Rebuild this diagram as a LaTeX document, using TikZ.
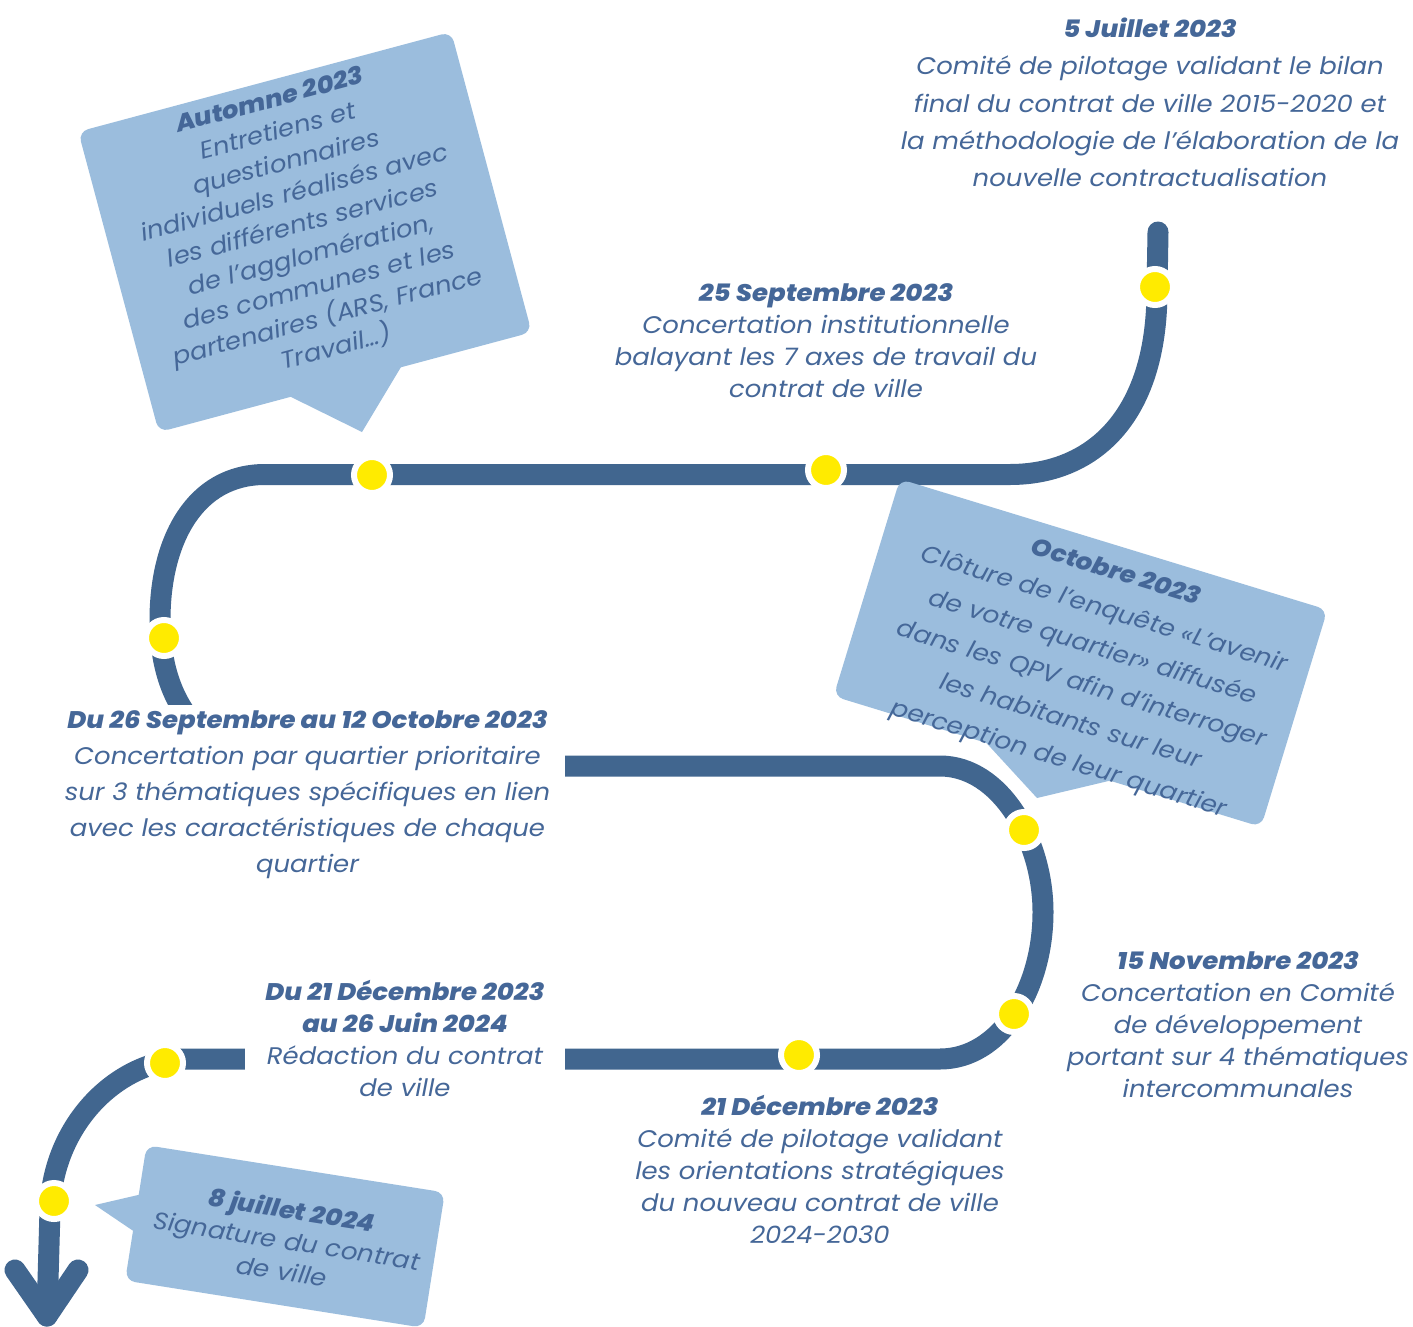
\documentclass[tikz,border=0pt]{standalone}
\usepackage{fontspec}
\IfFontExistsTF{Poppins ExtraBold Italic}
  {\setmainfont{Poppins}[FakeStretch=1.08, BoldItalicFont={Poppins ExtraBold Italic}]}
  {\setmainfont{Poppins}[FakeStretch=1.08]}
\definecolor{lineblue}{RGB}{65,102,143}
\definecolor{txtblue}{RGB}{69,103,152}
\definecolor{boxblue}{RGB}{155,189,221}
\definecolor{dotyellow}{RGB}{255,235,0}
\tikzset{
  route/.style={draw=lineblue, line width=21pt, line cap=round, line join=round},
  dotmark/.style={circle, fill=dotyellow, draw=white, line width=6pt, minimum size=36pt, inner sep=0pt},
  bubble/.style={fill=boxblue, rounded corners=10pt, inner sep=0pt},
  pointer/.style={fill=boxblue},
  txtblock/.style={text=txtblue, align=center, inner sep=0pt, font=\itshape\fontsize{24}{32}\selectfont},
  whiteblock/.style={txtblock, fill=white},
}
\begin{document}
\begin{tikzpicture}[x=1pt, y=-1pt]
\useasboundingbox (0,0) rectangle (1413,1327);
\clip (0,0) rectangle (1413,1327);
\fill[white] (0,0) rectangle (1413,1327);

% main route
\draw[route] (1158,232) -- (1157,290)
  .. controls (1157,420) and (1090,474.5) .. (1010,474.5) -- (265,474.5)
  .. controls (195,474.5) and (160,540) .. (160,620)
  .. controls (160,720) and (220,766) .. (300,766) -- (940,766)
  .. controls (1000,766) and (1043,840) .. (1043,912)
  .. controls (1043,990) and (1000,1059) .. (940,1059) -- (180,1059)
  .. controls (110,1065) and (52,1130) .. (50,1210) -- (47,1316);
\coordinate (tipL) at (15,1270);
\coordinate (tip) at (47,1316);
\coordinate (tipR) at (78,1270);
\draw[route] (tipL) -- (tip) -- (tipR);

% texts with white background hiding the route
\node[whiteblock, font=\itshape\fontsize{24}{36}\selectfont, minimum width=515pt, minimum height=180pt] (t26) at (307.5,795)
  {\textbf{Du 26 Septembre au 12 Octobre 2023}\\Concertation par quartier prioritaire\\sur 3 thématiques spécifiques en lien\\avec les caractéristiques de chaque\\quartier};
\node[whiteblock, minimum width=320pt, minimum height=130pt] (t21) at (405,1038)
  {\textbf{Du 21 Décembre 2023}\\\textbf{au 26 Juin 2024}\\Rédaction du contrat\\de ville};

% plain texts
\node[txtblock, font=\itshape\fontsize{24}{37.3}\selectfont] (t5) at (1150,102.5)
  {\textbf{5 Juillet 2023}\\Comité de pilotage validant le bilan\\final du contrat de ville 2015-2020 et\\la méthodologie de l’élaboration de la\\nouvelle contractualisation};
\node[txtblock] (t25) at (826,341)
  {\textbf{25 Septembre 2023}\\Concertation institutionnelle\\balayant les 7 axes de travail du\\contrat de ville};
\node[txtblock] (t15) at (1238,1025)
  {\textbf{15 Novembre 2023}\\Concertation en Comité\\de développement\\portant sur 4 thématiques\\intercommunales};
\node[txtblock] (t21d) at (820,1169.5)
  {\textbf{21 Décembre 2023}\\Comité de pilotage validant\\les orientations stratégiques\\du nouveau contrat de ville\\2024-2030};

% bubbles
\node[bubble, rotate=15, minimum width=386pt, minimum height=311pt] (bAut) at (305,232) {};
\fill[pointer] (401.6,366) -- (362,432) -- (285,394) -- cycle;
\node[txtblock, rotate=15] (tAut) at (303,225)
  {\textbf{Automne 2023}\\Entretiens et\\questionnaires\\individuels réalisés avec\\les différents services\\de l’agglomération,\\des communes et les\\partenaires (ARS, France\\Travail…)};

\node[bubble, rotate=-17, minimum width=447pt, minimum height=227pt] (bOct) at (1080.5,653) {};
\fill[pointer] (980,736) -- (1037,798) -- (1119,778.5) -- cycle;
\node[txtblock, rotate=-17, font=\itshape\fontsize{24}{39}\selectfont] (tOct) at (1087,667)
  {\textbf{Octobre 2023}\\Clôture de l’enquête «L’avenir\\de votre quartier» diffusée\\dans les QPV afin d’interroger\\les habitants sur leur\\perception de leur quartier};

\node[bubble, rotate=-9, minimum width=302pt, minimum height=137pt] (bJul) at (285,1236.5) {};
\fill[pointer] (151,1192) -- (95,1205) -- (143,1237.5) -- cycle;
\node[txtblock, rotate=-9, font=\itshape\fontsize{24}{31}\selectfont] (tJul) at (287,1240)
  {\textbf{8 juillet 2024}\\Signature du contrat\\de ville};

% dots
\node[dotmark] (d1) at (1155,287) {};
\node[dotmark] (d2) at (826,470) {};
\node[dotmark] (d3) at (372,475) {};
\node[dotmark] (d4) at (164,638) {};
\node[dotmark] (d5) at (1024,830) {};
\node[dotmark] (d6) at (1014,1014) {};
\node[dotmark] (d7) at (799,1055) {};
\node[dotmark] (d8) at (165,1063) {};
\node[dotmark] (d9) at (54,1201) {};
\end{tikzpicture}
\end{document}
